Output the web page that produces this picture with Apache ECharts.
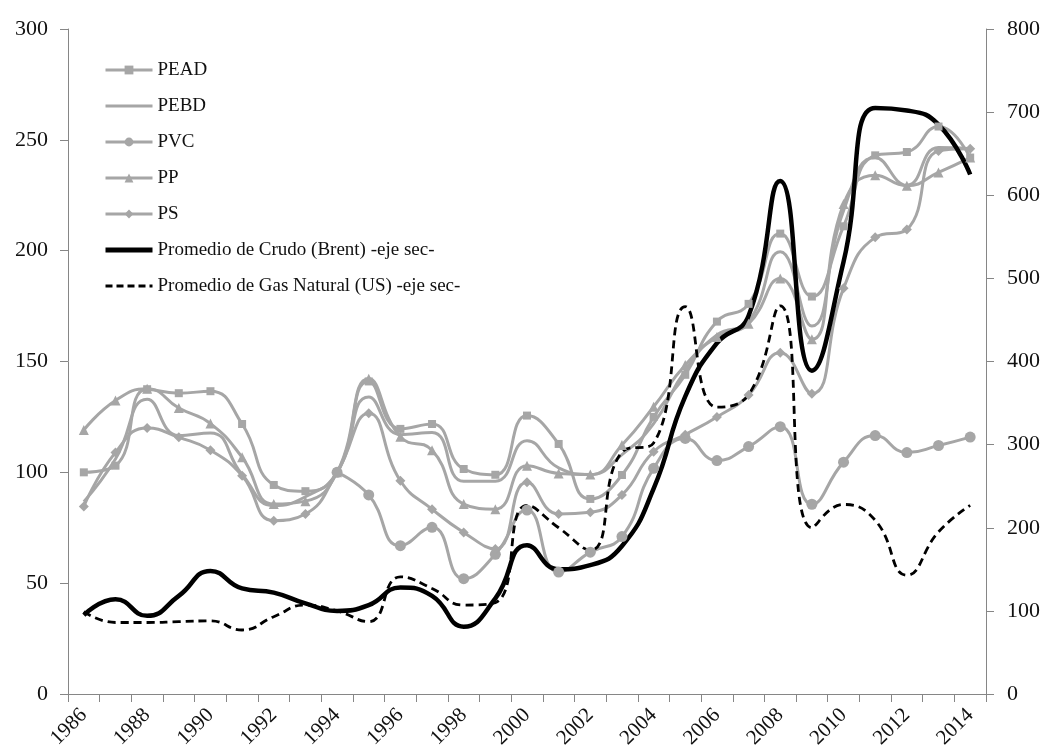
<!DOCTYPE html>
<html>
<head>
<meta charset="utf-8">
<script src="https://cdn.jsdelivr.net/npm/echarts@6/dist/echarts.min.js"></script>
<style>
html,body{margin:0;padding:0;background:#fff;}
#chart{width:1046px;height:756px;}
</style>
</head>
<body>
<div id="chart"></div>
<script>
const years = ['1986','1987','1988','1989','1990','1991','1992','1993','1994','1995','1996','1997','1998','1999','2000','2001','2002','2003','2004','2005','2006','2007','2008','2009','2010','2011','2012','2013','2014'];
const leftTicks = [0, 50, 100, 150, 200, 250, 300];
const rightTicks = [0, 100, 200, 300, 400, 500, 600, 700, 800];

const pead = [100, 103, 137.5, 135.7, 136.6, 121.8, 94.3, 91.5, 100, 141, 119.6, 121.8, 101.5, 98.9, 125.6, 112.8, 88, 98.8, 125, 144, 168, 176, 207.7, 179.3, 211, 243, 244.5, 256, 242];
const pebd = [86.7, 106, 133, 116.6, 117.8, 99, 85, 89, 100, 134, 117, 118, 96, 96, 114.3, 102, 99, 108, 122, 146, 162, 168, 199.5, 166, 218, 242, 229.5, 246.5, 246];
const pvc = [null, null, null, null, null, null, null, null, 100, 89.8, 66.9, 75.2, 52, 63, 83, 55, 64, 71, 101.8, 115.3, 105.3, 111.6, 120.6, 85.6, 104.6, 116.6, 108.9, 112.1, 115.9];
const pp = [119.1, 132.4, 137.7, 129, 122, 106.8, 85.7, 87, 100, 142.2, 116, 110, 85.7, 83.4, 103, 99.5, 99, 112.3, 129.6, 148.4, 161, 167, 187.5, 160, 221, 234, 229.3, 235.3, 242];
const ps = [84.6, 109, 120, 115.8, 110, 98.5, 78.2, 81.2, 100, 126.7, 96.2, 83.4, 72.9, 65.4, 95.5, 81.2, 82, 89.8, 109.3, 117, 125, 134.9, 154, 135.5, 183, 206, 209.6, 245, 246];
const brent = [95, 114, 94, 118, 148, 127, 122, 109, 100, 107, 128, 118, 81, 115, 179, 150, 155, 178, 247, 358, 422, 455, 617, 389, 520, 705, 702, 685, 625];
const gas = [99, 86, 86, 87, 88, 77, 93, 107, 100, 87, 141, 127, 107, 110, 227, 200, 173, 291, 302, 466, 345, 360, 467, 200, 228, 209, 143, 195, 227];

const names = ['PEAD','PEBD','PVC','PP','PS','Promedio de Crudo (Brent) -eje sec-','Promedio de Gas Natural (US) -eje sec-'];

const GRAY = '#A6A6A6';
const AXIS = '#868686';
const FONT = 'Liberation Serif';
const HIDDEN = {color: 'rgba(0,0,0,0)', borderWidth: 0, opacity: 0};

function graySeries(name, data, symbol, size) {
  return {
    name: name, type: 'line', yAxisIndex: 0, data: data, smooth: 0.5,
    symbol: symbol, symbolSize: size, showSymbol: symbol !== 'none',
    connectNulls: false,
    lineStyle: {color: GRAY, width: 3},
    itemStyle: {color: GRAY},
    emphasis: {disabled: true}
  };
}

const chart = echarts.init(document.getElementById('chart'), null, {renderer: 'canvas'});
chart.setOption({
  backgroundColor: '#fff',
  animation: false,
  grid: {left: 68, right: 60, top: 29, bottom: 62, containLabel: false},
  legend: {
    orient: 'vertical', left: 103, top: 60, padding: 0,
    itemWidth: 47, itemHeight: 11, itemGap: 16,
    data: [
      {name: names[0], lineStyle: {color: GRAY, width: 3}},
      {name: names[1], lineStyle: {color: GRAY, width: 3}, itemStyle: HIDDEN},
      {name: names[2], lineStyle: {color: GRAY, width: 3}},
      {name: names[3], lineStyle: {color: GRAY, width: 3}},
      {name: names[4], lineStyle: {color: GRAY, width: 3}},
      {name: names[5], lineStyle: {color: '#000', width: 5}, itemStyle: HIDDEN},
      {name: names[6], lineStyle: {color: '#000', width: 3, type: [7, 4]}, itemStyle: HIDDEN}
    ],
    textStyle: {fontFamily: FONT, fontSize: 19, color: '#111', lineHeight: 20}
  },
  xAxis: {
    type: 'category', data: years, boundaryGap: true,
    axisLine: {lineStyle: {color: AXIS, width: 1}},
    axisTick: {show: true, interval: 0, alignWithLabel: false, length: 8, lineStyle: {color: AXIS}},
    axisLabel: {interval: 1, rotate: 45, margin: 18, fontFamily: FONT, fontSize: 21, color: '#111'},
    splitLine: {show: false}
  },
  yAxis: [
    {
      type: 'value', min: leftTicks[0], max: leftTicks[leftTicks.length-1], interval: 50, position: 'left',
      axisLine: {show: true, lineStyle: {color: AXIS}},
      axisTick: {show: true, length: 8, lineStyle: {color: AXIS}},
      axisLabel: {margin: 20, fontFamily: FONT, fontSize: 22, color: '#111'},
      splitLine: {show: false}
    },
    {
      type: 'value', min: rightTicks[0], max: rightTicks[rightTicks.length-1], interval: 100, position: 'right',
      axisLine: {show: true, lineStyle: {color: AXIS}},
      axisTick: {show: true, length: 8, lineStyle: {color: AXIS}},
      axisLabel: {margin: 21, fontFamily: FONT, fontSize: 22, color: '#111'},
      splitLine: {show: false}
    }
  ],
  series: [
    graySeries(names[0], pead, 'rect', 8),
    graySeries(names[1], pebd, 'none', 0),
    graySeries(names[2], pvc, 'circle', 11),
    graySeries(names[3], pp, 'triangle', 10),
    graySeries(names[4], ps, 'diamond', 10),
    {
      name: names[5], type: 'line', yAxisIndex: 1, data: brent, smooth: 0.5,
      symbol: 'none', showSymbol: false,
      lineStyle: {color: '#000', width: 4.5}, itemStyle: {color: '#000'},
      emphasis: {disabled: true}
    },
    {
      name: names[6], type: 'line', yAxisIndex: 1, data: gas, smooth: 0.5,
      symbol: 'none', showSymbol: false,
      lineStyle: {color: '#000', width: 2.8, type: [8, 5]}, itemStyle: {color: '#000'},
      emphasis: {disabled: true}
    }
  ]
});
</script>
</body>
</html>
